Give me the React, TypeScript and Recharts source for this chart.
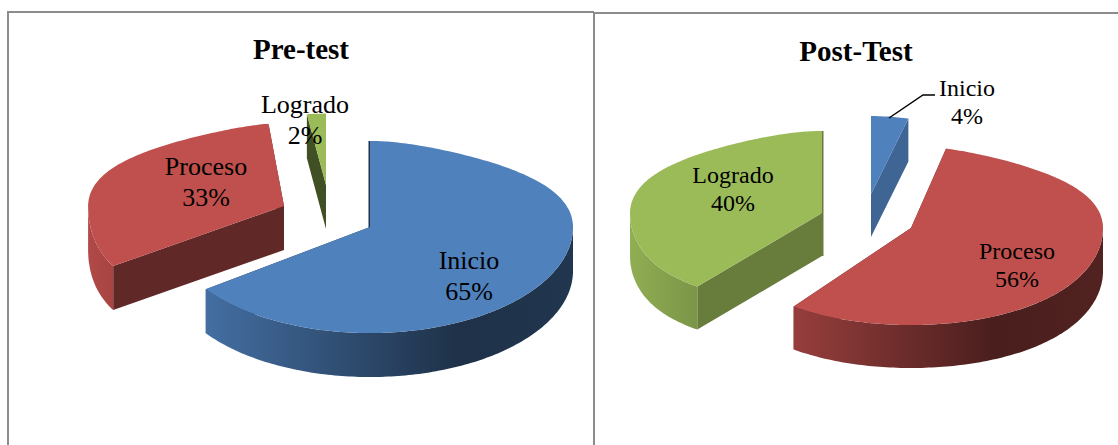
import { Pie, PieChart } from "recharts";

const NAMES = ["Inicio", "Proceso", "Logrado"];
const COLORS = ["#4f81bd", "#c0504d", "#9bbb59"];
const PRE_VALUES = [65, 33, 2];
const POST_VALUES = [4, 56, 40];

const toRows = (values: number[]) =>
  values.map((value, i) => ({ name: NAMES[i], value, fill: COLORS[i] }));

// exploded slices: shift from the pie centre, size factor, shade of the cut faces,
// how much the back narrows (squeeze) and the front widens (flare)
const PRE_LOOK = {
  id: "pre",
  cx: 330,
  cy: 210,
  rx: 203,
  ryFront: 106,
  ryBack: 86,
  depth: 44,
  lead: 31,
  slices: [
    { dx: 40, dy: 17, scale: 1, face: 0.4, squeeze: 0.3, flare: 0, edge: true },
    { dx: -46, dy: -4, scale: 0.965, face: 0.5, squeeze: 0.38, flare: 0.225 },
    { dx: -4, dy: -25, scale: 0.83, face: 0.42, squeeze: 0.1, flare: 0 },
  ],
  labels: [
    { x: 469, y: 269, size: 26 },
    { x: 206, y: 175, size: 26 },
    { x: 305, y: 113, size: 26 },
  ],
};

const POST_LOOK = {
  id: "post",
  cx: 870,
  cy: 215,
  rx: 192,
  ryFront: 97,
  ryBack: 82,
  depth: 43,
  lead: 27.5,
  slices: [
    { dx: 1, dy: -21, scale: 0.95, face: 0.78, squeeze: 0.2, flare: 0 },
    { dx: 41, dy: 13, scale: 1, face: 0.5, squeeze: 0.3, flare: 0.06 },
    { dx: -48, dy: -2, scale: 1, face: 0.67, squeeze: 0.3, flare: 0.16, ryFront: 91, edge: true },
  ],
  labels: [
    { x: 967, y: 96, size: 24 },
    { x: 1017, y: 259, size: 24 },
    { x: 733, y: 183, size: 24 },
  ],
};

const RAD = Math.PI / 180;

function shade(hex: string, f: number) {
  const n = parseInt(hex.slice(1), 16);
  const c = [(n >> 16) & 255, (n >> 8) & 255, n & 255].map((v) => Math.round(v * f));
  return `rgb(${c.join(",")})`;
}

function makeShape(look: typeof PRE_LOOK) {
  return function Slice3D(props: any) {
    const { cx, cy, outerRadius, startAngle, endAngle, fill, index } = props;
    const i = index ?? NAMES.indexOf(props.name);
    const s: any = look.slices[i];
    const ox = cx + s.dx;
    const oy = cy + s.dy;

    // the back of the pie is flatter and narrower than the front
    const pt = (deg: number, drop = 0) => {
      const sin = Math.sin(deg * RAD);
      const cos = Math.cos(deg * RAD);
      const warp = sin > 0 ? 1 - s.squeeze * sin ** 4 : 1 + s.flare * sin ** 2;
      const ry = sin > 0 ? look.ryBack : s.ryFront ?? look.ryFront;
      return [
        ox + outerRadius * s.scale * cos * warp,
        oy - ry * s.scale * sin + drop,
      ];
    };
    const arc = (from: number, to: number, drop = 0) => {
      const steps = Math.max(2, Math.ceil(Math.abs(from - to)));
      const out: number[][] = [];
      for (let k = 0; k <= steps; k++) out.push(pt(from + ((to - from) * k) / steps, drop));
      return out;
    };
    const poly = (pts: number[][]) =>
      "M" + pts.map((p) => `${p[0].toFixed(1)},${p[1].toFixed(1)}`).join("L") + "Z";

    const face = (deg: number) =>
      poly([[ox, oy], pt(deg), pt(deg, look.depth), [ox, oy + look.depth]]);

    const wallFrom = Math.min(startAngle, 0);
    const wallTo = Math.max(endAngle, -180);
    const hasWall = wallFrom > wallTo;
    const gradId = `wall-${look.id}-${i}`;
    const faceFill = shade(fill, s.face);
    // a 90 degree cut has no width on screen, a stroke keeps it visible
    const isUpright = (deg: number) => s.edge && Math.abs(Math.cos(deg * RAD)) < 0.01;

    return (
      <g>
        <defs>
          <linearGradient
            id={gradId}
            gradientUnits="userSpaceOnUse"
            x1={ox - outerRadius}
            x2={ox + outerRadius}
            y1={0}
            y2={0}
          >
            <stop offset="0%" stopColor={shade(fill, 0.93)} />
            <stop offset="72%" stopColor={shade(fill, 0.38)} />
            <stop offset="100%" stopColor={shade(fill, 0.42)} />
          </linearGradient>
        </defs>
        <path
          d={face(startAngle)}
          fill={faceFill}
          stroke={isUpright(startAngle) ? faceFill : "none"}
          strokeWidth={3}
        />
        <path
          d={face(endAngle)}
          fill={faceFill}
          stroke={isUpright(endAngle) ? faceFill : "none"}
          strokeWidth={3}
        />
        {hasWall && (
          <path
            d={poly([
              ...arc(wallFrom, wallTo),
              ...arc(wallTo, wallFrom, look.depth),
            ])}
            fill={`url(#${gradId})`}
          />
        )}
        <path d={poly([[ox, oy], ...arc(startAngle, endAngle)])} fill={fill} />
      </g>
    );
  };
}

function makeLabel(look: typeof PRE_LOOK) {
  return function SliceLabel(props: any) {
    const { index, name, value } = props;
    const pos = look.labels[index];
    return (
      <g>
        {look.id === "post" && name === "Inicio" && (
          <polyline
            points="889,118 923,95 935,95"
            fill="none"
            stroke="#000"
            strokeWidth={1.5}
          />
        )}
        <text
          x={pos.x}
          y={pos.y}
          textAnchor="middle"
          fontFamily="Liberation Serif"
          fontSize={pos.size}
          fill="#000"
        >
          <tspan x={pos.x}>{name}</tspan>
          <tspan x={pos.x} dy={look.lead}>
            {value}%
          </tspan>
        </text>
      </g>
    );
  };
}

const LINE = "#8c8c8c";

function Rule(props: { left: number; top: number; width?: number; height?: number }) {
  return (
    <div
      style={{
        position: "absolute",
        left: props.left,
        top: props.top,
        width: props.width ?? 2,
        height: props.height ?? 2,
        background: LINE,
      }}
    />
  );
}

export default function App() {
  return (
    <div style={{ position: "absolute", left: 0, top: 0, width: 1118, height: 445, overflow: "hidden", background: "#fff" }}>
      <Rule left={7} top={11} width={587} />
      <Rule left={594} top={12} width={524} />
      <Rule left={7} top={11} height={434} />
      <Rule left={593} top={12} height={433} />
      <PieChart width={1118} height={445} margin={{ top: 0, right: 0, bottom: 0, left: 0 }} style={{ position: "absolute", left: 0, top: 0 }}>
        <Pie
          data={toRows(PRE_VALUES)}
          dataKey="value"
          nameKey="name"
          cx={PRE_LOOK.cx}
          cy={PRE_LOOK.cy}
          outerRadius={PRE_LOOK.rx}
          startAngle={90}
          endAngle={-270}
          stroke="none"
          shape={makeShape(PRE_LOOK)}
          label={makeLabel(PRE_LOOK)}
          labelLine={false}
          isAnimationActive={false}
        />
        <Pie
          data={toRows(POST_VALUES)}
          dataKey="value"
          nameKey="name"
          cx={POST_LOOK.cx}
          cy={POST_LOOK.cy}
          outerRadius={POST_LOOK.rx}
          startAngle={90}
          endAngle={-270}
          stroke="none"
          shape={makeShape(POST_LOOK)}
          label={makeLabel(POST_LOOK)}
          labelLine={false}
          isAnimationActive={false}
        />
        <text x={301} y={59} textAnchor="middle" fontFamily="Liberation Serif" fontWeight="bold" fontSize={29}>
          Pre-test
        </text>
        <text x={856} y={61} textAnchor="middle" fontFamily="Liberation Serif" fontWeight="bold" fontSize={29}>
          Post-Test
        </text>
      </PieChart>
    </div>
  );
}
